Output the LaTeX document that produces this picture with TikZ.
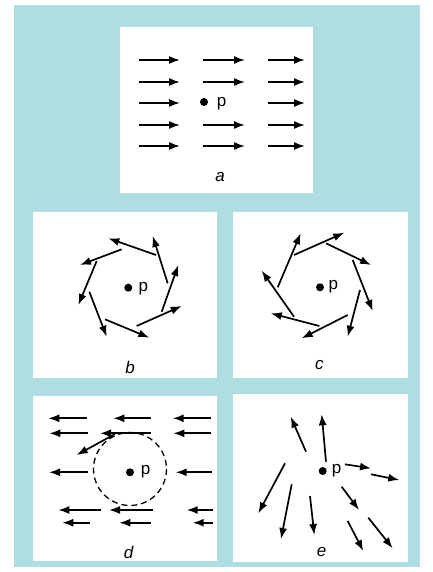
\documentclass[tikz,border=0pt]{standalone}
\usepackage{fontspec}
\setmainfont{Liberation Sans}
\usetikzlibrary{arrows.meta}
\definecolor{scanblue}{RGB}{174,221,226}

\begin{document}
\begin{tikzpicture}[
  x=1pt,
  y=-1pt,
  panel/.style={
    fill=white,
    draw=none
  },
  vec/.style={
    draw=black,
    line width=1.7pt,
    -{Latex[length=11pt,width=8pt]}
  },
  dotp/.style={circle, fill=black, inner sep=0pt, minimum size=8pt},
  plabel/.style={font=\fontsize{17}{17}\selectfont, inner sep=0pt},
  panellabel/.style={font=\fontsize{17}{17}\selectfont\itshape, inner sep=0pt}
]
\useasboundingbox (0,0) rectangle (432,572);

% backdrop and the five panels
\fill[scanblue] (14,5) rectangle (420,567);
\fill[panel] (120,27) rectangle (313,193);
\fill[panel] (33,212) rectangle (217,378);
\fill[panel] (233,212) rectangle (408,378);
\fill[panel] (33,396) rectangle (217,561);
\fill[panel] (233,394) rectangle (408,562);

% a: uniform flow
\foreach \xa/\xb/\y in {139/180/60, 203/245/60, 268/305/60,
                        139/180/82, 203/245/82, 268/305/82,
                        139/180/103, 268/305/103,
                        139/180/125, 203/245/125, 268/305/125,
                        139/180/146, 203/245/146, 268/305/146}
  \draw[vec] (\xa,\y) -- (\xb,\y);
\node[dotp] (dota) at (204,102) {};
\node[plabel] (pa) at (221.7,104) {p};
\node[panellabel] (lbla) at (220,177) {a};

% b: counter-clockwise swirl
\foreach \xa/\ya/\xb/\yb in {156/255/108.3/238.3, 167.7/283.3/152.7/236,
                             121.7/249.3/80/265, 161.7/311.7/178.3/265,
                             96.7/261/78.3/305, 136.7/326/181.7/306,
                             89.3/291.7/106.7/336.7, 105/319.3/149.3/337.7}
  \draw[vec] (\xa,\ya) -- (\xb,\yb);
\node[dotp] (dotb) at (128.3,287.7) {};
\node[plabel] (pb) at (143.3,288.5) {p};
\node[panellabel] (lblb) at (130,367) {b};

% c: clockwise swirl
\foreach \xa/\ya/\xb/\yb in {294/255/344.3/232.7, 326/243.3/371/265,
                             277.7/287.3/300.7/233.3, 352.7/260/372.7/311,
                             294/316.7/261.7/270.7, 360/290/347.7/336.7,
                             319.3/326/270.7/313.3, 347.7/315/301.7/338.3}
  \draw[vec] (\xa,\ya) -- (\xb,\yb);
\node[dotp] (dotc) at (320,287.3) {};
\node[plabel] (pc) at (333.3,286.7) {p};
\node[panellabel] (lblc) at (319.3,365) {c};

% d: flow to the left round a circle
\draw[line width=1.3pt, dash pattern=on 6pt off 4pt] (130,469) circle[radius=36.5];
\foreach \xa/\xb/\y in {87.3/48.3/418.3, 150.7/113.3/418.3, 211/172.7/418.3,
                        88.3/49.3/433.3, 150.7/100/433.3, 211/173.3/433.3,
                        88.3/49/472.3, 211.7/175.7/472.3,
                        101/58.3/510, 153.3/109/510, 213.3/186.7/510,
                        90/62.3/522.7, 150.7/119.3/522.7, 212.7/192.7/522.7}
  \draw[vec] (\xa,\y) -- (\xb,\y);
\draw[vec] (115,434) -- (76.7,455);
\node[dotp] (dotd) at (130,472.3) {};
\node[plabel] (pd) at (145.7,472) {p};
\node[panellabel] (lbld) at (128.5,552) {d};

% e: scattered field
\foreach \xa/\ya/\xb/\yb in {306/451.7/290.7/416.7, 326/461.7/321.7/414.3,
                             345/464.3/371/468.3, 371/474.3/399.3/480,
                             285/463.3/258.3/513.3, 291.7/484.3/281/539,
                             310/496/314.3/535, 341.7/486.7/359/510,
                             347.7/521/363.3/551, 368.3/517.7/392.7/548.3}
  \draw[vec] (\xa,\ya) -- (\xb,\yb);
\node[dotp] (dote) at (322.7,471) {};
\node[plabel] (pe) at (336.7,471) {p};
\node[panellabel] (lble) at (321.5,552) {e};

\end{tikzpicture}
\end{document}
